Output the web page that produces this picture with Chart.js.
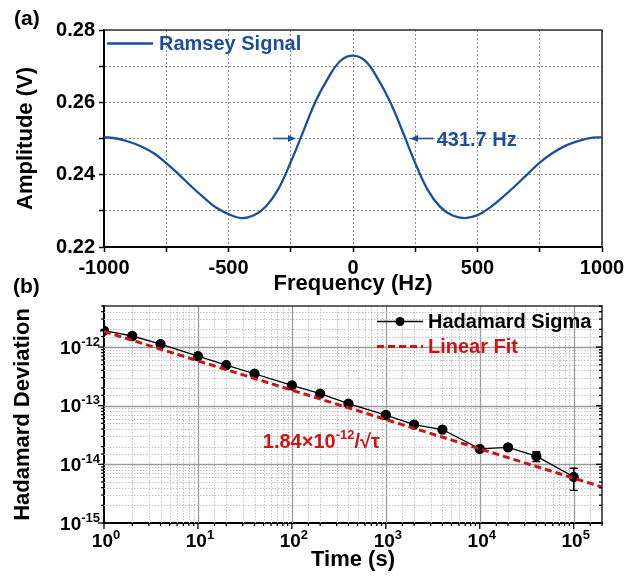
<!DOCTYPE html>
<html>
<head>
<meta charset="utf-8">
<script src="https://cdn.jsdelivr.net/npm/chart.js@4.4.1/dist/chart.umd.min.js"></script>
<style>
    html, body { margin: 0; padding: 0; background: #fff; }
    body { width: 637px; height: 577px; position: relative; overflow: hidden; }
    .panel { position: absolute; left: 0; width: 637px; }
    #wrapA { top: 0; height: 300px; }
    #wrapB { top: 275px; height: 302px; }
</style>
</head>
<body>
<div class="panel" id="wrapA"><canvas id="chartA"></canvas></div>
<div class="panel" id="wrapB"><canvas id="chartB"></canvas></div>
<script>
// panel (a) - Ramsey signal
var freqHz = [-1000, -950, -900, -850, -800, -750, -700, -650, -600, -550, -500, -450, -400, -350, -300, -250, -200, -150, -100, -50,
    0, 50, 100, 150, 200, 250, 300, 350, 400, 450, 500, 550, 600, 650, 700, 750, 800, 850, 900, 950, 1000];
var ramseyV = [0.2504, 0.2500, 0.2491, 0.2478, 0.2459, 0.2432, 0.2401, 0.2368, 0.2337, 0.2309, 0.2291, 0.2280, 0.2287, 0.2312, 0.2360, 0.2435, 0.2519, 0.2603, 0.2667, 0.2715,
    0.2729, 0.2714, 0.2665, 0.2600, 0.2518, 0.2432, 0.2358, 0.2311, 0.2287, 0.2280, 0.2288, 0.2309, 0.2337, 0.2368, 0.2401, 0.2433, 0.2459, 0.2479, 0.2492, 0.2501, 0.2504];
var freqLabels = [-1000, -500, 0, 500, 1000];
var ampLabels = [0.22, 0.24, 0.26, 0.28];
var fwhmLevel = 0.25;
var fwhmText = '431.7 Hz';

// panel (b) - Hadamard deviation
var tauSec = [1, 2, 4, 10, 20, 40, 100, 200, 400, 1000, 2000, 4000, 10000, 20000, 40000, 100000];
var hadSigma = [1.9e-12, 1.54e-12, 1.12e-12, 7.0e-13, 4.93e-13, 3.5e-13, 2.22e-13, 1.6e-13, 1.08e-13, 6.93e-14, 4.77e-14, 3.92e-14, 1.83e-14, 1.95e-14, 1.38e-14, 6.1e-15];
var hadErr = [2e-14, 1.5e-14, 1e-14, 6e-15, 5e-15, 4e-15, 3e-15, 2.5e-15, 2e-15, 1.5e-15, 1.2e-15, 1.2e-15, 0.7e-15, 1.8e-15, 2.6e-15, 2.5e-15];
var fitTau = [1, 200000];
var fitSigma = [1.84e-12, 4.11e-15];
var tauDecades = [0, 1, 2, 3, 4, 5];
var sigmaDecades = [-15, -14, -13, -12];

var FONT = "'Liberation Sans', Arial, Helvetica, sans-serif";
var blue = '#1b4f9c';
var red = '#cc1417';

function isDecade(v) {
    var l = Math.log10(v);
    return Math.abs(l - Math.round(l)) < 1e-6;
}

function crisp(p) {
    return Math.round(p) + 0.5;
}

function drawFrame(ctx, area) {
    ctx.save();
    ctx.strokeStyle = '#333';
    ctx.lineWidth = 1.6;
    ctx.beginPath();
    ctx.moveTo(area.left, area.top);
    ctx.lineTo(area.right, area.top);
    ctx.lineTo(area.right, area.bottom);
    ctx.stroke();
    ctx.restore();
}

function drawPow(ctx, exp, x, y, align, color) {
    var base = '10', sup = String(exp);
    ctx.fillStyle = color || '#000';
    ctx.font = 'bold 19px ' + FONT;
    var wb = ctx.measureText(base).width;
    ctx.font = 'bold 13px ' + FONT;
    var ws = ctx.measureText(sup).width;
    var x0 = align === 'right' ? x - wb - ws : x - (wb + ws) / 2;
    ctx.textAlign = 'left';
    ctx.textBaseline = 'middle';
    ctx.font = 'bold 19px ' + FONT;
    ctx.fillText(base, x0, y + 1.5);
    ctx.font = 'bold 13px ' + FONT;
    ctx.fillText(sup, x0 + wb, y - 5);
}

function arrow(ctx, x1, x2, y) {
    var dir = x2 > x1 ? 1 : -1;
    ctx.beginPath();
    ctx.moveTo(x1, y);
    ctx.lineTo(x2 - dir * 6, y);
    ctx.stroke();
    ctx.beginPath();
    ctx.moveTo(x2, y);
    ctx.lineTo(x2 - dir * 8, y - 3.5);
    ctx.lineTo(x2 - dir * 8, y + 3.5);
    ctx.closePath();
    ctx.fill();
}

var panelA = {
    id: 'panelA',
    afterDraw: function (chart) {
        var ctx = chart.ctx, a = chart.chartArea, sx = chart.scales.x, sy = chart.scales.y;
        drawFrame(ctx, a);
        ctx.save();
        // legend
        var ds = chart.data.datasets[0];
        ctx.strokeStyle = ds.borderColor;
        ctx.lineWidth = ds.borderWidth;
        ctx.beginPath(); ctx.moveTo(a.left + 3, 43.5); ctx.lineTo(a.left + 49, 43.5); ctx.stroke();
        ctx.fillStyle = ds.borderColor;
        ctx.font = 'bold 20px ' + FONT;
        ctx.textAlign = 'left';
        ctx.textBaseline = 'middle';
        ctx.fillText(ds.label, a.left + 55, 44.5);
        // FWHM arrows
        var py = sy.getPixelForValue(fwhmLevel);
        ctx.lineWidth = 1.6;
        arrow(ctx, sx.getPixelForValue(-322), sx.getPixelForValue(-229), py);
        arrow(ctx, sx.getPixelForValue(322), sx.getPixelForValue(229), py);
        ctx.fillText(fwhmText, sx.getPixelForValue(336), py + 2);
        // panel letter
        ctx.fillStyle = '#000';
        ctx.font = 'bold 21px ' + FONT;
        ctx.fillText('(a)', 14, 19);
        ctx.restore();
    }
};

var panelB = {
    id: 'panelB',
    beforeDatasetsDraw: function (chart) {
        var ctx = chart.ctx, a = chart.chartArea, sx = chart.scales.x, sy = chart.scales.y;
        ctx.save();
        [[sx, true], [sy, false]].forEach(function (pair) {
            var s = pair[0], vert = pair[1];
            s.ticks.forEach(function (t) {
                var p = s.getPixelForValue(t.value);
                if (vert && (p <= a.left + 1 || p >= a.right - 1)) return;
                if (!vert && (p <= a.top + 1 || p >= a.bottom - 1)) return;
                p = crisp(p);
                if (isDecade(t.value)) {
                    ctx.strokeStyle = '#9a9a9a';
                    ctx.setLineDash([]);
                    ctx.lineWidth = 1.3;
                } else {
                    ctx.strokeStyle = '#c2c2c2';
                    ctx.setLineDash([1.5, 1.5]);
                    ctx.lineWidth = 1;
                }
                ctx.beginPath();
                if (vert) { ctx.moveTo(p, a.top); ctx.lineTo(p, a.bottom); }
                else { ctx.moveTo(a.left, p); ctx.lineTo(a.right, p); }
                ctx.stroke();
            });
        });
        ctx.setLineDash([]);
        // error bars
        ctx.strokeStyle = '#000';
        ctx.lineWidth = 1.4;
        tauSec.forEach(function (t, i) {
            var px = sx.getPixelForValue(t);
            var hi = sy.getPixelForValue(hadSigma[i] + hadErr[i]);
            var lo = sy.getPixelForValue(hadSigma[i] - hadErr[i]);
            ctx.beginPath();
            ctx.moveTo(px, hi); ctx.lineTo(px, lo);
            ctx.moveTo(px - 4, hi); ctx.lineTo(px + 4, hi);
            ctx.moveTo(px - 4, lo); ctx.lineTo(px + 4, lo);
            ctx.stroke();
        });
        ctx.restore();
    },
    afterDraw: function (chart) {
        var ctx = chart.ctx, a = chart.chartArea, sx = chart.scales.x, sy = chart.scales.y;
        drawFrame(ctx, a);
        ctx.save();
        ctx.strokeStyle = '#000';
        ctx.lineWidth = 1.3;
        sx.ticks.forEach(function (t) {
            var px = sx.getPixelForValue(t.value);
            var len = isDecade(t.value) ? 6 : 3;
            ctx.beginPath(); ctx.moveTo(px, a.bottom); ctx.lineTo(px, a.bottom + len); ctx.stroke();
        });
        sy.ticks.forEach(function (t) {
            var py = sy.getPixelForValue(t.value);
            var len = isDecade(t.value) ? 6 : 3;
            ctx.beginPath(); ctx.moveTo(a.left, py); ctx.lineTo(a.left - len, py); ctx.stroke();
            ctx.beginPath(); ctx.moveTo(a.right, py); ctx.lineTo(a.right - len, py); ctx.stroke();
        });
        // tick labels with exponents
        tauDecades.forEach(function (e) {
            drawPow(ctx, e, sx.getPixelForValue(Math.pow(10, e)) + 2, a.bottom + 17.5, 'center');
        });
        sigmaDecades.forEach(function (e) {
            drawPow(ctx, e, a.left - 4, sy.getPixelForValue(Math.pow(10, e)), 'right');
        });
        // legend
        var had = chart.data.datasets[1], fit = chart.data.datasets[0];
        var lx = 377, ly1 = 46.5, ly2 = 71.5;
        ctx.strokeStyle = had.borderColor;
        ctx.lineWidth = had.borderWidth;
        ctx.beginPath(); ctx.moveTo(lx, ly1); ctx.lineTo(lx + 46, ly1); ctx.stroke();
        ctx.fillStyle = '#000';
        ctx.beginPath(); ctx.arc(lx + 23, ly1, had.pointRadius, 0, Math.PI * 2); ctx.fill();
        ctx.strokeStyle = fit.borderColor;
        ctx.lineWidth = fit.borderWidth;
        ctx.setLineDash(fit.borderDash);
        ctx.beginPath(); ctx.moveTo(lx, ly2); ctx.lineTo(lx + 46, ly2); ctx.stroke();
        ctx.setLineDash([]);
        ctx.font = 'bold 20px ' + FONT;
        ctx.textAlign = 'left';
        ctx.textBaseline = 'middle';
        ctx.fillStyle = '#000';
        ctx.fillText(had.label, lx + 51, ly1 + 1);
        ctx.fillStyle = fit.borderColor;
        ctx.fillText(fit.label, lx + 51, ly2 + 1);
        // fit formula
        var fx = sx.getPixelForValue(49), fy = sy.getPixelForValue(2.4e-14);
        ctx.font = 'bold 20px ' + FONT;
        ctx.fillText('1.84\u00d710', fx, fy);
        var w1 = ctx.measureText('1.84\u00d710').width;
        ctx.font = 'bold 13px ' + FONT;
        ctx.fillText('-12', fx + w1, fy - 7);
        var w2 = ctx.measureText('-12').width;
        ctx.font = 'bold 20px ' + FONT;
        ctx.fillText('/\u221a\u03c4', fx + w1 + w2, fy);
        // panel letter
        ctx.fillStyle = '#000';
        ctx.font = 'bold 21px ' + FONT;
        ctx.fillText('(b)', 13, 12);
        ctx.restore();
    }
};

var tickFont = {family: FONT, size: 20, weight: 'bold'};
var titleFont = {family: FONT, size: 22, weight: 'bold'};

var gridA = {
    display: true,
    drawOnChartArea: true,
    drawTicks: true,
    tickLength: 5,
    tickWidth: 1.5,
    tickColor: '#000',
    lineWidth: 1,
    color: '#8e8e8e'
};

new Chart(document.getElementById('chartA'), {
    type: 'line',
    data: {
        datasets: [{
            label: 'Ramsey Signal',
            data: freqHz.map(function (f, i) { return {x: f, y: ramseyV[i]}; }),
            borderColor: blue,
            borderWidth: 2.3,
            pointRadius: 0,
            tension: 0.4,
            fill: false
        }]
    },
    options: {
        responsive: true,
        maintainAspectRatio: false,
        animation: false,
        layout: {padding: {top: 30, right: 35, left: 0, bottom: 0}},
        plugins: {legend: {display: false}, tooltip: {enabled: false}},
        scales: {
            x: {
                type: 'linear', min: -1000, max: 1000,
                ticks: {
                    stepSize: 250, autoSkip: false, maxRotation: 0, color: '#000', font: tickFont, padding: 4,
                    callback: function (v) { return freqLabels.indexOf(v) >= 0 ? String(v) : ''; }
                },
                grid: gridA,
                border: {display: true, color: '#000', width: 2, dash: [2, 2]},
                title: {display: true, text: 'Frequency (Hz)', color: '#000', font: titleFont, padding: {top: 0, bottom: 3}},
                afterFit: function (s) { s.height = 53; }
            },
            y: {
                type: 'linear', min: 0.22, max: 0.28,
                ticks: {
                    stepSize: 0.01, autoSkip: false, color: '#000', font: tickFont, padding: 4,
                    callback: function (v) {
                        for (var i = 0; i < ampLabels.length; i++) {
                            if (Math.abs(ampLabels[i] - v) < 1e-6) return v.toFixed(2);
                        }
                        return '';
                    }
                },
                grid: gridA,
                border: {display: true, color: '#000', width: 2, dash: [2, 2]},
                title: {display: true, text: 'Amplitude (V)', color: '#000', font: titleFont, padding: {top: 13, bottom: 0}},
                afterFit: function (s) { s.width = 104; }
            }
        }
    },
    plugins: [panelA]
});

new Chart(document.getElementById('chartB'), {
    type: 'line',
    data: {
        datasets: [{
            label: 'Linear Fit',
            data: fitTau.map(function (t, i) { return {x: t, y: fitSigma[i]}; }),
            borderColor: red,
            borderWidth: 3,
            borderDash: [7, 4],
            pointRadius: 0,
            fill: false,
            order: 0
        }, {
            label: 'Hadamard Sigma',
            data: tauSec.map(function (t, i) { return {x: t, y: hadSigma[i]}; }),
            borderColor: '#000',
            borderWidth: 1.3,
            pointRadius: 4.5,
            pointBackgroundColor: '#000',
            pointBorderColor: '#000',
            fill: false,
            order: 1
        }]
    },
    options: {
        responsive: true,
        maintainAspectRatio: false,
        animation: false,
        layout: {padding: {top: 31, right: 35, left: 0, bottom: 0}},
        plugins: {legend: {display: false}, tooltip: {enabled: false}},
        scales: {
            x: {
                type: 'logarithmic', min: 1, max: 200000,
                ticks: {display: false, autoSkip: false},
                grid: {display: false},
                border: {display: true, color: '#000', width: 2},
                title: {display: true, text: 'Time (s)', color: '#000', font: titleFont, padding: {top: 0, bottom: 4}},
                afterFit: function (s) { s.height = 54; }
            },
            y: {
                type: 'logarithmic', min: 1e-15, max: 5e-12,
                ticks: {display: false, autoSkip: false},
                grid: {display: false},
                border: {display: true, color: '#000', width: 2},
                title: {display: true, text: 'Hadamard Deviation', color: '#000', font: titleFont, padding: {top: 10, bottom: 0}},
                afterFit: function (s) { s.width = 104; }
            }
        }
    },
    plugins: [panelB]
});
</script>
</body>
</html>
